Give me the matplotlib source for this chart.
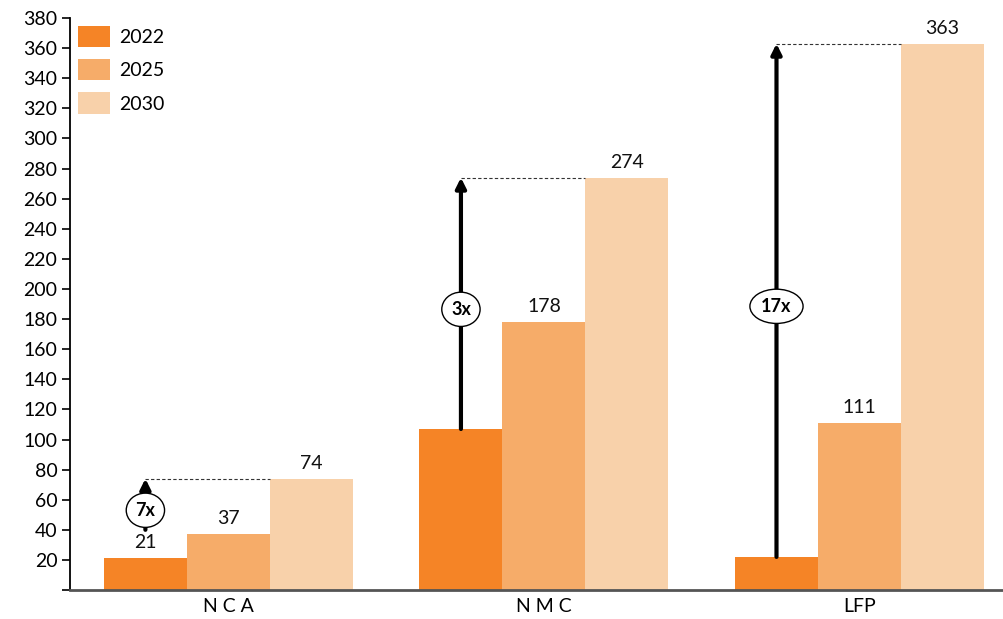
import numpy as np
import matplotlib.pyplot as plt

plt.rcParams['font.family'] = ['Lato', 'DejaVu Sans']

categories = ["N C A", "N M C", "LFP"]
years = ["2022", "2025", "2030"]
v2022 = [21, 107, 22]
v2025 = [37, 178, 111]
v2030 = [74, 274, 363]
# which 2022 values carry a number label
show_2022_label = [True, False, False]
growth_labels = ["7x", "3x", "17x"]
yticks = list(range(0, 381, 20))

colors = ["#F58426", "#F6AC69", "#F8D1AA"]

fig = plt.figure(figsize=(10.04, 6.19), dpi=100)
ax = fig.add_axes([0.0697, 0.0468, 0.9303, 0.924])

x = np.arange(len(categories))
w = 0.263
series = [v2022, v2025, v2030]
for i, (vals, c, yr) in enumerate(zip(series, colors, years)):
    ax.bar(x + (i - 1) * w, vals, w, color=c, label=yr, linewidth=0)

# value labels
for i, vals in enumerate(series):
    for j, v in enumerate(vals):
        if i == 0 and not show_2022_label[j]:
            continue
        ax.annotate(str(v), (x[j] + (i - 1) * w, v), xytext=(0, 5),
                    textcoords="offset points", ha="center", va="bottom",
                    fontsize=14, color="#111111")

# growth arrows 2022 -> 2030
for j in range(len(categories)):
    xa = x[j] - w
    start = v2022[j] + (19 if show_2022_label[j] else 0)
    end = v2030[j]
    ax.annotate("", xy=(xa, end), xytext=(xa, start),
                arrowprops=dict(arrowstyle="-|>,head_width=0.3,head_length=0.6",
                                lw=3, color="black", shrinkA=0, shrinkB=0))
    ax.plot([xa, x[j] + w / 2], [end, end], ls=(0, (3, 2)), lw=0.8, color="#333333")
    mid = (start + end) / 2 - 4
    ax.text(xa, mid, growth_labels[j], ha="center", va="center", fontsize=13,
            fontweight="bold",
            bbox=dict(boxstyle="ellipse,pad=0.2", fc="white", ec="black", lw=1))

ax.set_xlim(-0.502, 2.458)
ax.set_ylim(0, 380)
ax.set_yticks(yticks)
ax.set_yticklabels([str(t) if t > 0 else "" for t in yticks], fontsize=14)
ax.set_xticks(x)
ax.set_xticklabels(categories, fontsize=14)
ax.tick_params(axis="x", length=0, pad=6)
ax.tick_params(axis="y", length=6, width=1.2, pad=3)

for s in ["top", "right"]:
    ax.spines[s].set_visible(False)
ax.spines["left"].set_linewidth(1.3)
ax.spines["bottom"].set_linewidth(2)
ax.spines["bottom"].set_color("#555555")

ax.legend(loc="upper left", bbox_to_anchor=(-0.006, 1.01), frameon=False, fontsize=14,
          handlelength=1.65, handleheight=1.3, labelspacing=0.62, handletextpad=0.45,
          borderaxespad=0.3)

fig.savefig("out.png", dpi=100)
